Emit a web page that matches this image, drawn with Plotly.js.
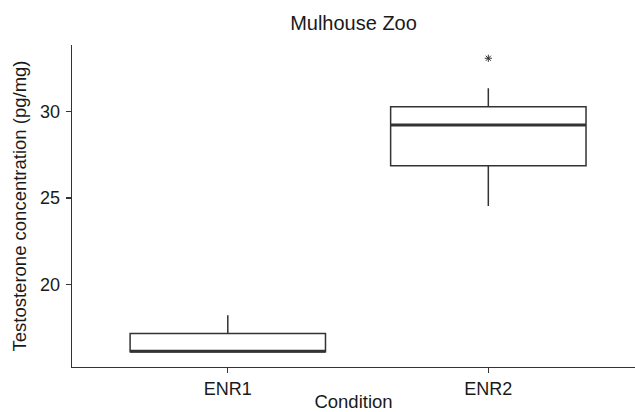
<!DOCTYPE html>
<html>
<head>
<meta charset="utf-8">
<script src="https://cdn.plot.ly/plotly-3.0.1.min.js"></script>
<style>html,body{margin:0;padding:0;background:#fff;}#chart{width:635px;height:412px;}</style>
</head>
<body>
<div id="chart"></div>
<script>
// Data
const categories = ['ENR1', 'ENR2'];
const positions = [1, 2];
const q1 = [16.08, 26.87];
const median = [16.12, 29.23];
const q3 = [17.14, 30.29];
const lowerWhisker = [16.08, 24.54];
const upperWhisker = [18.20, 31.36];
const outlierCategory = [2];
const outlierValue = [33.10];
const yTicks = [20, 25, 30];

const boxWidth = 0.75;
const lineColor = '#333333';

const boxTrace = {
  type: 'box',
  x: positions,
  q1: q1, median: median, q3: q3,
  lowerfence: lowerWhisker, upperfence: upperWhisker,
  width: boxWidth,
  whiskerwidth: 0,
  fillcolor: '#ffffff',
  line: {color: lineColor, width: 1.5},
  boxpoints: false,
  hoverinfo: 'skip',
  showlegend: false
};

// thicker median lines, as in ggplot
const mx = [], my = [];
positions.forEach((p, i) => {
  mx.push(p - boxWidth / 2, p + boxWidth / 2, null);
  my.push(median[i], median[i], null);
});
const medianTrace = {
  type: 'scatter', mode: 'lines', x: mx, y: my,
  line: {color: lineColor, width: 3}, hoverinfo: 'skip', showlegend: false
};

const outlierTrace = {
  type: 'scatter', mode: 'markers', x: outlierCategory, y: outlierValue,
  marker: {symbol: 'asterisk-open', size: 6, color: lineColor, line: {color: lineColor, width: 1}},
  hoverinfo: 'skip', showlegend: false
};

const font = {family: 'Liberation Sans, Arial, sans-serif', color: '#1a1a1a'};

const layout = {
  width: 635, height: 412,
  margin: {l: 72, r: 0, t: 45, b: 45},
  paper_bgcolor: '#ffffff', plot_bgcolor: '#ffffff',
  font: Object.assign({size: 18}, font),
  title: {text: 'Mulhouse Zoo', font: Object.assign({size: 20}, font),
          x: 0.5, xref: 'paper', xanchor: 'center', y: 0.945, yref: 'container', yanchor: 'middle'},
  xaxis: {
    range: [0.402, 2.563], tickvals: positions, ticktext: categories,
    showline: true, linecolor: lineColor, linewidth: 1.3,
    ticks: 'outside', ticklen: 5, tickcolor: lineColor, tickwidth: 1.3,
    showgrid: false, zeroline: false,
    tickfont: Object.assign({size: 18}, font),
    title: {text: 'Condition', font: Object.assign({size: 18.5}, font), standoff: 6}
  },
  yaxis: {
    range: [15.2, 33.87], tickvals: yTicks,
    showline: true, linecolor: lineColor, linewidth: 1.3,
    ticks: 'outside', ticklen: 5, tickcolor: lineColor, tickwidth: 1.3,
    ticklabelstandoff: 2,
    showgrid: false, zeroline: false,
    tickfont: Object.assign({size: 18}, font),
    title: {text: 'Testosterone concentration (pg/mg)', font: Object.assign({size: 18.5}, font), standoff: 8}
  },
  showlegend: false
};

Plotly.newPlot('chart', [boxTrace, medianTrace, outlierTrace], layout, {displayModeBar: false, staticPlot: true});
</script>
</body>
</html>
